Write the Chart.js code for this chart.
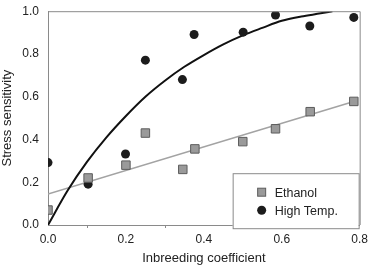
<!DOCTYPE html>
<html>
<head>
<meta charset="utf-8">
<script src="https://cdn.jsdelivr.net/npm/chart.js@4.4.1/dist/chart.umd.min.js"></script>
<style>
  html, body { margin: 0; padding: 0; background: #fff; }
  #wrap { position: relative; width: 370px; height: 267px; }
</style>
</head>
<body>
<div id="wrap"><canvas id="chart"></canvas></div>
<script>
// measured points
const ethanolX = [0, 0.103, 0.2, 0.25, 0.346, 0.377, 0.5, 0.584, 0.673, 0.785]
const ethanolY = [0.07, 0.22, 0.28, 0.43, 0.26, 0.356, 0.39, 0.45, 0.53, 0.578]
const heatX = [0, 0.103, 0.199, 0.25, 0.345, 0.375, 0.501, 0.584, 0.672, 0.785]
const heatY = [0.292, 0.191, 0.332, 0.771, 0.68, 0.891, 0.902, 0.982, 0.931, 0.971]

// fitted lines
const ethanolFitX = [0, 0.785]
const ethanolFitY = [0.145, 0.578]
const heatFitX = [0, 0.05, 0.1, 0.15, 0.2, 0.25, 0.3, 0.35, 0.4, 0.45, 0.5, 0.55, 0.6, 0.65, 0.7, 0.73]
const heatFitY = [0, 0.16, 0.295, 0.41, 0.51, 0.6, 0.675, 0.74, 0.795, 0.845, 0.887, 0.922, 0.955, 0.975, 0.99, 1.0]

const xTicks = [0, 0.2, 0.4, 0.6, 0.8]
const xMinorTicks = [0.1, 0.3, 0.5, 0.7]
const yTicks = [0, 0.2, 0.4, 0.6, 0.8, 1.0]
const legendLabels = ["Ethanol", "High Temp."]

const toPts = (xs, ys) => xs.map((x, i) => ({x: x, y: ys[i]}))

const axisGray = "#8a8a8a"
const textColor = "#222"
const fontFamily = "'Liberation Sans', Arial, sans-serif"

const frame = {
    id: "frame",
    afterDraw(chart) {
        const ctx = chart.ctx
        const a = chart.chartArea
        const xs = chart.scales.x
        ctx.save()
        ctx.strokeStyle = axisGray
        ctx.lineWidth = 1
        ctx.beginPath()
        ctx.moveTo(a.left, a.top + 0.5)
        ctx.lineTo(a.right + 0.5, a.top + 0.5)
        ctx.lineTo(a.right + 0.5, a.bottom)
        // minor ticks
        xMinorTicks.forEach(v => {
            const px = Math.round(xs.getPixelForValue(v)) + 0.5
            ctx.moveTo(px, a.bottom)
            ctx.lineTo(px, a.bottom + 3)
        })
        ctx.stroke()

        // legend box
        const bx = a.right - 127, by = a.top + 162, bw = 126, bh = 55
        ctx.fillStyle = "#fff"
        ctx.fillRect(bx, by, bw, bh)
        ctx.strokeRect(bx + 0.5, by + 0.5, bw, bh)

        ctx.font = "12.5px " + fontFamily
        ctx.fillStyle = textColor
        ctx.textBaseline = "middle"
        ctx.textAlign = "left"
        const mx = bx + 29
        const rows = [by + 19, by + 37]
        // square marker
        ctx.fillStyle = "#9a9a9a"
        ctx.strokeStyle = "#5c5c5c"
        ctx.fillRect(mx - 4, rows[0] - 4, 8, 8)
        ctx.strokeRect(mx - 4, rows[0] - 4, 8, 8)
        // circle marker
        ctx.fillStyle = "#1c1c1c"
        ctx.beginPath()
        ctx.arc(mx, rows[1], 4.5, 0, Math.PI * 2)
        ctx.fill()

        ctx.fillStyle = textColor
        ctx.fillText(legendLabels[0], bx + 42, rows[0] + 1)
        ctx.fillText(legendLabels[1], bx + 42, rows[1] + 1)
        ctx.restore()
    }
}

const ctx = document.getElementById("chart").getContext("2d")
new Chart(ctx, {
    type: "scatter",
    data: {
        datasets: [
            {
                label: legendLabels[0],
                data: toPts(ethanolX, ethanolY),
                pointStyle: "rect",
                pointRadius: 6,
                backgroundColor: "#9a9a9a",
                borderColor: "#5c5c5c",
                borderWidth: 1,
                order: 0
            },
            {
                label: legendLabels[1],
                data: toPts(heatX, heatY),
                pointStyle: "circle",
                pointRadius: 4.5,
                backgroundColor: "#1c1c1c",
                borderColor: "#1c1c1c",
                borderWidth: 0,
                order: 0
            },
            {
                data: toPts(ethanolFitX, ethanolFitY),
                showLine: true,
                pointRadius: 0,
                borderColor: "#a3a3a3",
                borderWidth: 1.6,
                order: 2
            },
            {
                data: toPts(heatFitX, heatFitY),
                showLine: true,
                pointRadius: 0,
                borderColor: "#111",
                borderWidth: 2,
                cubicInterpolationMode: "monotone",
                order: 1
            }
        ]
    },
    options: {
        responsive: true,
        maintainAspectRatio: false,
        animation: false,
        layout: { padding: { top: 7, right: 10, left: 0, bottom: 0 } },
        plugins: {
            legend: { display: false },
            tooltip: { enabled: false }
        },
        scales: {
            x: {
                type: "linear",
                min: 0,
                max: 0.8,
                afterBuildTicks: s => { s.ticks = xTicks.map(v => ({value: v})) },
                afterFit: s => { s.height = 42 },
                grid: { display: false, drawOnChartArea: false, drawTicks: true, tickLength: 5, color: axisGray },
                border: { color: axisGray, width: 1 },
                ticks: {
                    color: textColor,
                    padding: 2,
                    maxRotation: 0,
                    font: { family: fontFamily, size: 12 },
                    callback: v => v.toFixed(1)
                },
                title: {
                    display: true,
                    text: "Inbreeding coefficient",
                    color: textColor,
                    padding: { top: 0, bottom: 1 },
                    font: { family: fontFamily, size: 13 }
                }
            },
            y: {
                type: "linear",
                min: 0,
                max: 1,
                afterBuildTicks: s => { s.ticks = yTicks.map(v => ({value: v})) },
                afterFit: s => { s.width = 48 },
                grid: { display: false, drawOnChartArea: false, drawTicks: true, tickLength: 5, color: axisGray },
                border: { color: axisGray, width: 1 },
                ticks: {
                    color: textColor,
                    padding: 4,
                    font: { family: fontFamily, size: 12 },
                    callback: v => v.toFixed(1)
                },
                title: {
                    display: true,
                    text: "Stress sensitivity",
                    color: textColor,
                    padding: { top: 0, bottom: 0 },
                    font: { family: fontFamily, size: 13 }
                }
            }
        }
    },
    plugins: [frame]
})
</script>
</body>
</html>
